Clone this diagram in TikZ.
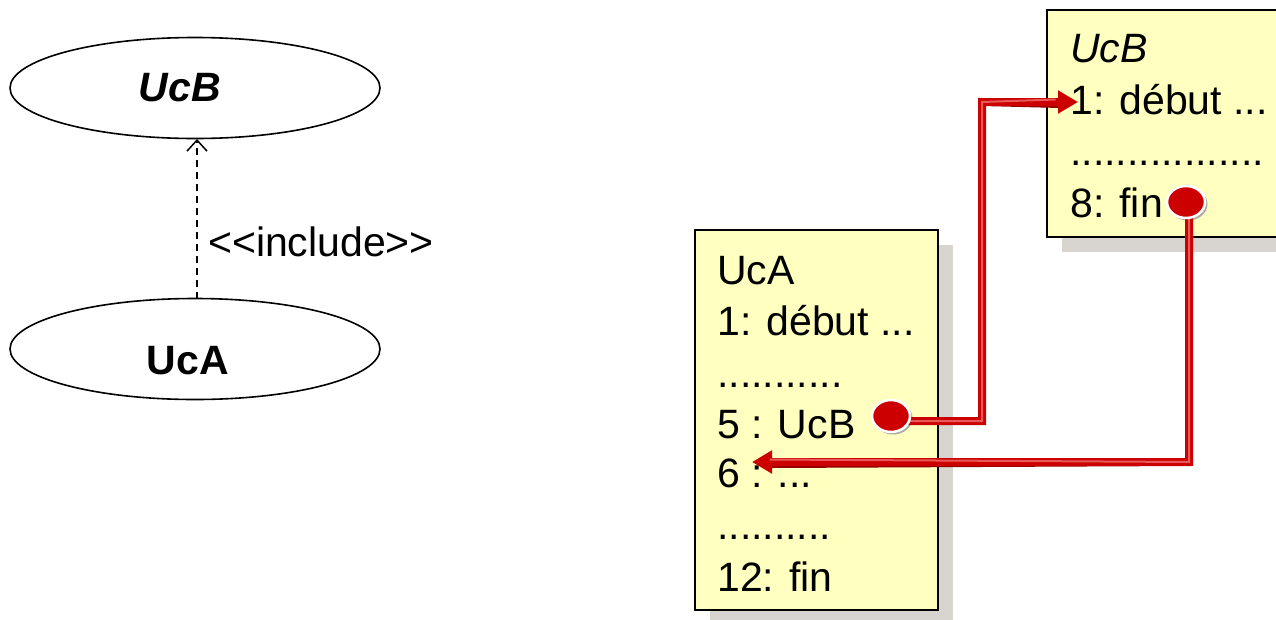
\documentclass[tikz,border=0pt]{standalone}
\usepackage{fontspec}
\setmainfont{Liberation Sans}
\usetikzlibrary{arrows.meta,shapes.geometric}
\definecolor{boxfill}{RGB}{255,255,192}
\definecolor{shadowgray}{RGB}{216,212,208}
\definecolor{redmain}{RGB}{204,0,0}
\definecolor{redlight}{RGB}{232,90,90}
\definecolor{reddark}{RGB}{150,0,0}
\tikzset{
  uc/.style={ellipse,draw,line width=1.6pt,minimum width=370pt,minimum height=101pt,inner sep=0pt},
  big/.style={font=\fontsize{41}{49}\selectfont},
  boxline/.style={anchor=base west,inner sep=0pt,font=\fontsize{41}{49}\selectfont},
  notebox/.style={draw,line width=1.6pt,fill=boxfill},
  redflow/.style={line width=8pt,draw=redmain,line join=miter},
  redhi/.style={line width=2pt,draw=redlight},
  dot/.style={ellipse,fill=redmain,draw=white,line width=2.5pt,minimum width=38pt,minimum height=32pt,inner sep=0pt},
  dotshadow/.style={ellipse,fill=shadowgray!80!black,minimum width=39pt,minimum height=33pt,inner sep=0pt},
}
\begin{document}
\begin{tikzpicture}[x=1pt,y=-1pt]
\useasboundingbox (0,0) rectangle (1276,619);
% left diagram
\node[uc] (ucb) at (195,88) {};
\node[big,font=\fontsize{41}{49}\selectfont\bfseries\itshape] at (180,88) {UcB};
\node[uc] (uca) at (195,349) {};
\node[big,font=\fontsize{41}{49}\selectfont\bfseries] at (188,361) {UcA};
\coordinate (incfrom) at (197,298.5);
\coordinate (incto) at (197,139);
\draw[line width=1.5pt,dash pattern=on 7pt off 5pt,-{Straight Barb[length=11pt,width=20pt,line width=1.5pt]}] (incfrom) -- (incto);
\node[anchor=west,inner sep=0pt,big] (inclbl) at (208,242) {<\kern0pt<include>\kern0pt>};
% shadows
\fill[shadowgray] (710,245) rectangle (953,625);
\fill[shadowgray] (1062,25) rectangle (1290,252);
% boxes
\draw[notebox] (695,230) rectangle (938,610);
\draw[notebox] (1047,10) rectangle (1290,237);
% UcA box text
\node[boxline] (a0) at (717,284) {UcA};
\node[boxline] (a1) at (717,335) {1: début ...};
\node[boxline] (a2) at (717,387) {...........};
\node[boxline] (a3) at (717,438) {5 : UcB};
\node[boxline] (a4) at (717,487) {6 : ...};
\node[boxline] (a5) at (717,539) {..........};
\node[boxline] (a6) at (717,591) {12: fin};
% UcB box text
\node[boxline,font=\fontsize{41}{49}\selectfont\itshape] (b0) at (1070,62) {UcB};
\node[boxline] (b1) at (1070,114) {1: début ...};
\node[boxline] (b2) at (1070,165) {.................};
\node[boxline] (b3) at (1070,217) {8: fin};
% red flows
\node[dotshadow] at (893,418) {};
\node[dotshadow] at (1188,204) {};
\coordinate (c1a) at (908,421);
\coordinate (c1b) at (982,421);
\coordinate (c1c) at (982,102);
\coordinate (c1d) at (1078,102);
\coordinate (c2a) at (1189,215);
\coordinate (c2b) at (1189,462);
\coordinate (c2c) at (752,462);
\draw[redflow,draw=reddark,shift={(2,2)}] (c1a) -- (c1b) -- (c1c) -- (1058,102);
\draw[redflow,draw=reddark,shift={(2,2)}] (c2a) -- (c2b) -- (770,462);
\draw[redflow,-{Triangle[length=20pt,width=22pt]}] (c1a) -- (c1b) -- (c1c) -- (c1d);
\draw[redflow,-{Triangle[length=20pt,width=22pt]}] (c2a) -- (c2b) -- (c2c);
\draw[redhi,shift={(-2.5,-2.5)}] (c1a) -- (c1b) -- (c1c) -- (1058,102);
\draw[redhi,shift={(-2.5,-2.5)}] (c2a) -- (c2b) -- (772,462);
\node[dot] (d1) at (891,416) {};
\node[dot] (d2) at (1186,202) {};
\end{tikzpicture}
\end{document}
